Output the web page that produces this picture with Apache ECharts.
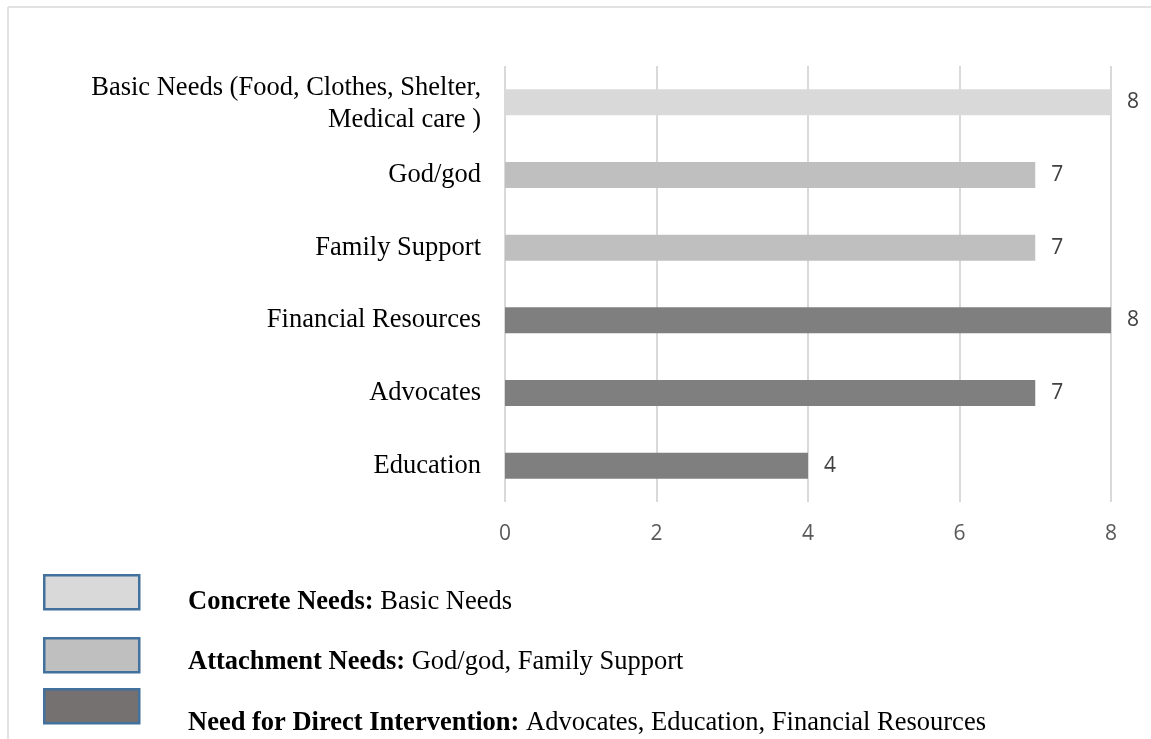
<!DOCTYPE html>
<html>
<head>
<meta charset="utf-8">
<script src="https://cdn.jsdelivr.net/npm/echarts@6/dist/echarts.min.js"></script>
<style>
  html, body { margin: 0; padding: 0; background: #fff; }
  #chart { width: 1151px; height: 739px; }
</style>
</head>
<body>
<div id="chart"></div>
<script>
// Categories, top to bottom
const categories = [
  'Basic Needs (Food, Clothes, Shelter,\nMedical care )',
  'God/god',
  'Family Support',
  'Financial Resources',
  'Advocates',
  'Education'
];
// Number of mentions per category
const counts = [8, 7, 7, 8, 7, 4];
// Need group of each category (index into groupNames)
const groupOfCategory = [0, 1, 1, 2, 2, 2];
const groupNames = ['Concrete Needs:', 'Attachment Needs:', 'Need for Direct Intervention:'];
const groupMembers = ['Basic Needs', 'God/god, Family Support', 'Advocates, Education, Financial Resources'];
const barColors = ['#d9d9d9', '#bfbfbf', '#7f7f7f'];
const swatchColors = ['#d9d9d9', '#bfbfbf', '#767171'];
// Value axis ticks
const axisMin = 0, axisMax = 8, axisStep = 2;

const serif = '"Liberation Serif", "Times New Roman", serif';
const sans = '"Open Sans", "Noto Sans", sans-serif';

const chart = echarts.init(document.getElementById('chart'), null, { renderer: 'canvas' });

// Legend key: swatch boxes and bold/regular description lines
const legendRows = [602, 662, 723];
const swatchTops = [574, 637, 688];
const legendGraphics = [];
groupNames.forEach((g, i) => {
  legendGraphics.push({
    type: 'rect',
    left: 43, top: swatchTops[i],
    shape: { width: 95, height: 34 },
    style: { fill: swatchColors[i], stroke: '#41719c', lineWidth: 2.5 }
  });
  legendGraphics.push({
    type: 'text',
    x: 188, y: legendRows[i],
    style: {
      text: '{b|' + g + '} ' + groupMembers[i],
      font: '26.5px ' + serif,
      fill: '#000',
      verticalAlign: 'middle',
      rich: { b: { fontWeight: 'bold', fontSize: 26.5, fontFamily: serif, fill: '#000' } }
    }
  });
});
// Outer frame lines (top and left)
legendGraphics.push({
  type: 'line', shape: { x1: 8, y1: 7, x2: 1151, y2: 7 },
  style: { stroke: '#d9d9d9', lineWidth: 1.5 }
});
legendGraphics.push({
  type: 'line', shape: { x1: 8, y1: 7, x2: 8, y2: 739 },
  style: { stroke: '#d9d9d9', lineWidth: 1.5 }
});

chart.setOption({
  backgroundColor: '#fff',
  animation: false,
  grid: { left: 505, right: 40, top: 66, bottom: 237, containLabel: false },
  xAxis: {
    type: 'value',
    min: axisMin, max: axisMax, interval: axisStep,
    axisLine: { show: false },
    axisTick: { show: false },
    axisLabel: { fontFamily: sans, fontSize: 21, color: '#595959', margin: 22 },
    splitLine: { show: true, lineStyle: { color: '#d9d9d9', width: 2 } }
  },
  yAxis: {
    type: 'category',
    data: categories,
    inverse: true,
    axisLine: { show: false },
    axisTick: { show: false },
    axisLabel: {
      fontFamily: serif, fontSize: 26.5, color: '#000', margin: 24,
      lineHeight: 32, align: 'right',
      formatter: (v) => v.indexOf('\n') >= 0
        ? v.split('\n').map(s => '{two|' + s + '}').join('\n')
        : v,
      rich: {
        two: { fontFamily: serif, fontSize: 26.5, color: '#000', lineHeight: 32, padding: [3, 0, 0, 0] }
      }
    }
  },
  series: [{
    type: 'bar',
    barWidth: 26,
    data: counts.map((v, i) => ({ value: v, itemStyle: { color: barColors[groupOfCategory[i]] } })),
    label: {
      show: true, position: 'right', distance: 16,
      fontFamily: sans, fontSize: 21, color: '#404040'
    }
  }],
  graphic: legendGraphics
});
</script>
</body>
</html>
